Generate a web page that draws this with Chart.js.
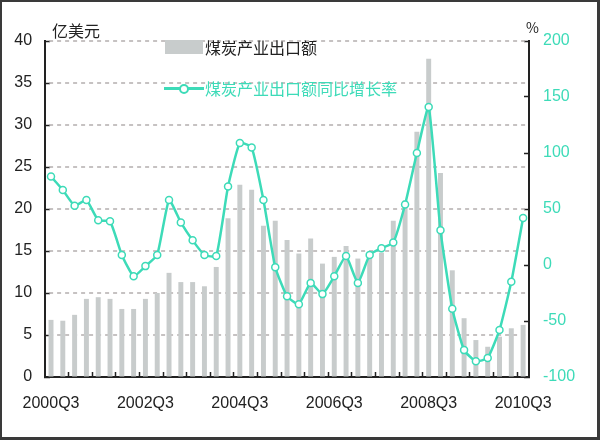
<html>

<head>
    <script src="https://cdn.jsdelivr.net/npm/chart.js"></script>
    <style>
        body {
            margin: 0;
            background: #fff;
        }

        #wrap {
            position: relative;
            width: 600px;
            height: 440px;
            font-family: 'Noto Sans CJK SC', 'Noto Sans', sans-serif;
        }

        #frame {
            position: absolute;
            left: 0;
            top: 0;
            width: 600px;
            height: 440px;
            box-sizing: border-box;
            border-style: solid;
            border-color: #3a3a3a;
            border-width: 2px 3px 3px 2px;
            pointer-events: none;
        }

        .txt {
            position: absolute;
            white-space: nowrap;
            line-height: 1;
        }
    </style>
</head>

<body>
    <div id="wrap">
        <canvas id="chart" width="600" height="440"></canvas>
        <div class="txt" style="left:52px; top:22px; font-size:16px; color:#222;">亿美元</div>
        <div class="txt" style="left:526px; top:20px; font-size:14px; color:#222;">%</div>

        <!-- legend -->
        <div style="position:absolute; left:165px; top:40px; width:38px; height:14px; background:#c8cccc;"></div>
        <div class="txt" style="left:205px; top:39px; font-size:16px; color:#222;">煤炭产业出口额</div>
        <div style="position:absolute; left:164px; top:87px; width:40px; height:3px; background:#3ddbb8;"></div>
        <div style="position:absolute; left:179px; top:84px; width:6px; height:6px; border:2px solid #3ddbb8; border-radius:50%; background:#fff;"></div>
        <div class="txt" style="left:205px; top:80px; font-size:16px; color:#3ddbb8;">煤炭产业出口额同比增长率</div>

        <div id="frame"></div>
    </div>

    <script>
        const quarters = [
            '2000Q3', '2000Q4', '2001Q1', '2001Q2', '2001Q3', '2001Q4', '2002Q1', '2002Q2',
            '2002Q3', '2002Q4', '2003Q1', '2003Q2', '2003Q3', '2003Q4', '2004Q1', '2004Q2',
            '2004Q3', '2004Q4', '2005Q1', '2005Q2', '2005Q3', '2005Q4', '2006Q1', '2006Q2',
            '2006Q3', '2006Q4', '2007Q1', '2007Q2', '2007Q3', '2007Q4', '2008Q1', '2008Q2',
            '2008Q3', '2008Q4', '2009Q1', '2009Q2', '2009Q3', '2009Q4', '2010Q1', '2010Q2',
            '2010Q3'
        ];

        // 煤炭产业出口额 (亿美元)
        const exportValue = [
            6.8, 6.7, 7.4, 9.3, 9.5, 9.3, 8.1, 8.1,
            9.3, 10.0, 12.4, 11.3, 11.3, 10.8, 13.1, 18.9,
            22.9, 22.3, 18.0, 18.6, 16.3, 14.7, 16.5, 13.5,
            14.3, 15.6, 14.1, 14.8, 14.8, 18.6, 21.0, 29.2,
            37.9, 24.3, 12.7, 7.0, 4.4, 3.6, 4.8, 5.8,
            6.2
        ];

        // 煤炭产业出口额同比增长率 (%)
        const growthRate = [
            79, 67, 53, 58, 40, 39, 9, -10,
            -1, 9, 58, 38, 22, 9, 8, 70,
            109, 105, 58, -2, -28, -35, -16, -26,
            -10, 8, -16, 9, 15, 20, 54, 100,
            141, 31, -39, -76, -86, -83, -58, -15,
            42
        ];

        const shownTicks = ['2000Q3', '2002Q3', '2004Q3', '2006Q3', '2008Q3', '2010Q3'];

        const teal = '#3ddbb8';
        const barGray = '#c8cccc';
        const axisColor = '#222';
        const tickFont = { family: "'Liberation Sans', Arial, sans-serif", size: 16 };

        // dashed horizontal grid lines at the left axis ticks
        const dashedGrid = {
            id: 'dashedGrid',
            beforeDatasetsDraw(chart) {
                const { ctx, chartArea, scales } = chart;
                const yL = scales.yL;
                ctx.save();
                ctx.strokeStyle = '#b4aeae';
                ctx.lineWidth = 1.5;
                ctx.setLineDash([4, 4]);
                yL.ticks.forEach(t => {
                    if (t.value === 0) return;
                    const y = Math.round(yL.getPixelForValue(t.value));
                    ctx.beginPath();
                    ctx.moveTo(chartArea.left + 4, y);
                    ctx.lineTo(chartArea.right, y);
                    ctx.stroke();
                });
                ctx.restore();
            }
        };

        const ctx = document.getElementById('chart').getContext('2d');
        new Chart(ctx, {
            plugins: [dashedGrid],
            data: {
                labels: quarters,
                datasets: [
                    {
                        type: 'line',
                        label: '煤炭产业出口额同比增长率',
                        data: growthRate,
                        yAxisID: 'yR',
                        order: 0,
                        borderColor: teal,
                        borderWidth: 2.5,
                        tension: 0.15,
                        pointRadius: 3.5,
                        pointBorderWidth: 1.5,
                        pointBackgroundColor: '#fff',
                        pointBorderColor: teal
                    },
                    {
                        type: 'bar',
                        label: '煤炭产业出口额',
                        data: exportValue,
                        yAxisID: 'yL',
                        order: 1,
                        backgroundColor: barGray,
                        categoryPercentage: 1,
                        barPercentage: 0.42
                    }
                ]
            },
            options: {
                responsive: false,
                animation: false,
                layout: { padding: { top: 41, left: 0, right: 0, bottom: 0 } },
                plugins: {
                    legend: { display: false },
                    tooltip: { enabled: false }
                },
                scales: {
                    x: {
                        offset: true,
                        afterFit: s => { s.height = 63; },
                        grid: {
                            offset: true,
                            drawOnChartArea: false,
                            tickLength: -5,
                            tickWidth: 1.5,
                            tickColor: c => (c.index > 0 && c.index < quarters.length && c.index % 2 === 0) ? axisColor : 'rgba(0,0,0,0)'
                        },
                        border: { color: axisColor, width: 2 },
                        ticks: {
                            autoSkip: false,
                            maxRotation: 0,
                            padding: 22,
                            color: axisColor,
                            font: tickFont,
                            callback: function (v, i) {
                                const l = quarters[i];
                                return shownTicks.includes(l) ? l : '';
                            }
                        }
                    },
                    yL: {
                        position: 'left',
                        min: 0,
                        max: 40,
                        afterFit: s => { s.width = 44; },
                        grid: {
                            drawOnChartArea: false,
                            tickLength: -5,
                            tickColor: axisColor,
                            tickWidth: 1.5
                        },
                        border: { color: axisColor, width: 2 },
                        ticks: { stepSize: 5, padding: 18, color: axisColor, font: tickFont }
                    },
                    yR: {
                        position: 'right',
                        min: -100,
                        max: 200,
                        afterFit: s => { s.width = 71; },
                        grid: {
                            drawOnChartArea: false,
                            tickLength: -5,
                            tickColor: axisColor,
                            tickWidth: 1.5
                        },
                        border: { color: axisColor, width: 2 },
                        ticks: { stepSize: 50, padding: 19, color: teal, font: tickFont }
                    }
                }
            }
        });
    </script>
</body>

</html>
